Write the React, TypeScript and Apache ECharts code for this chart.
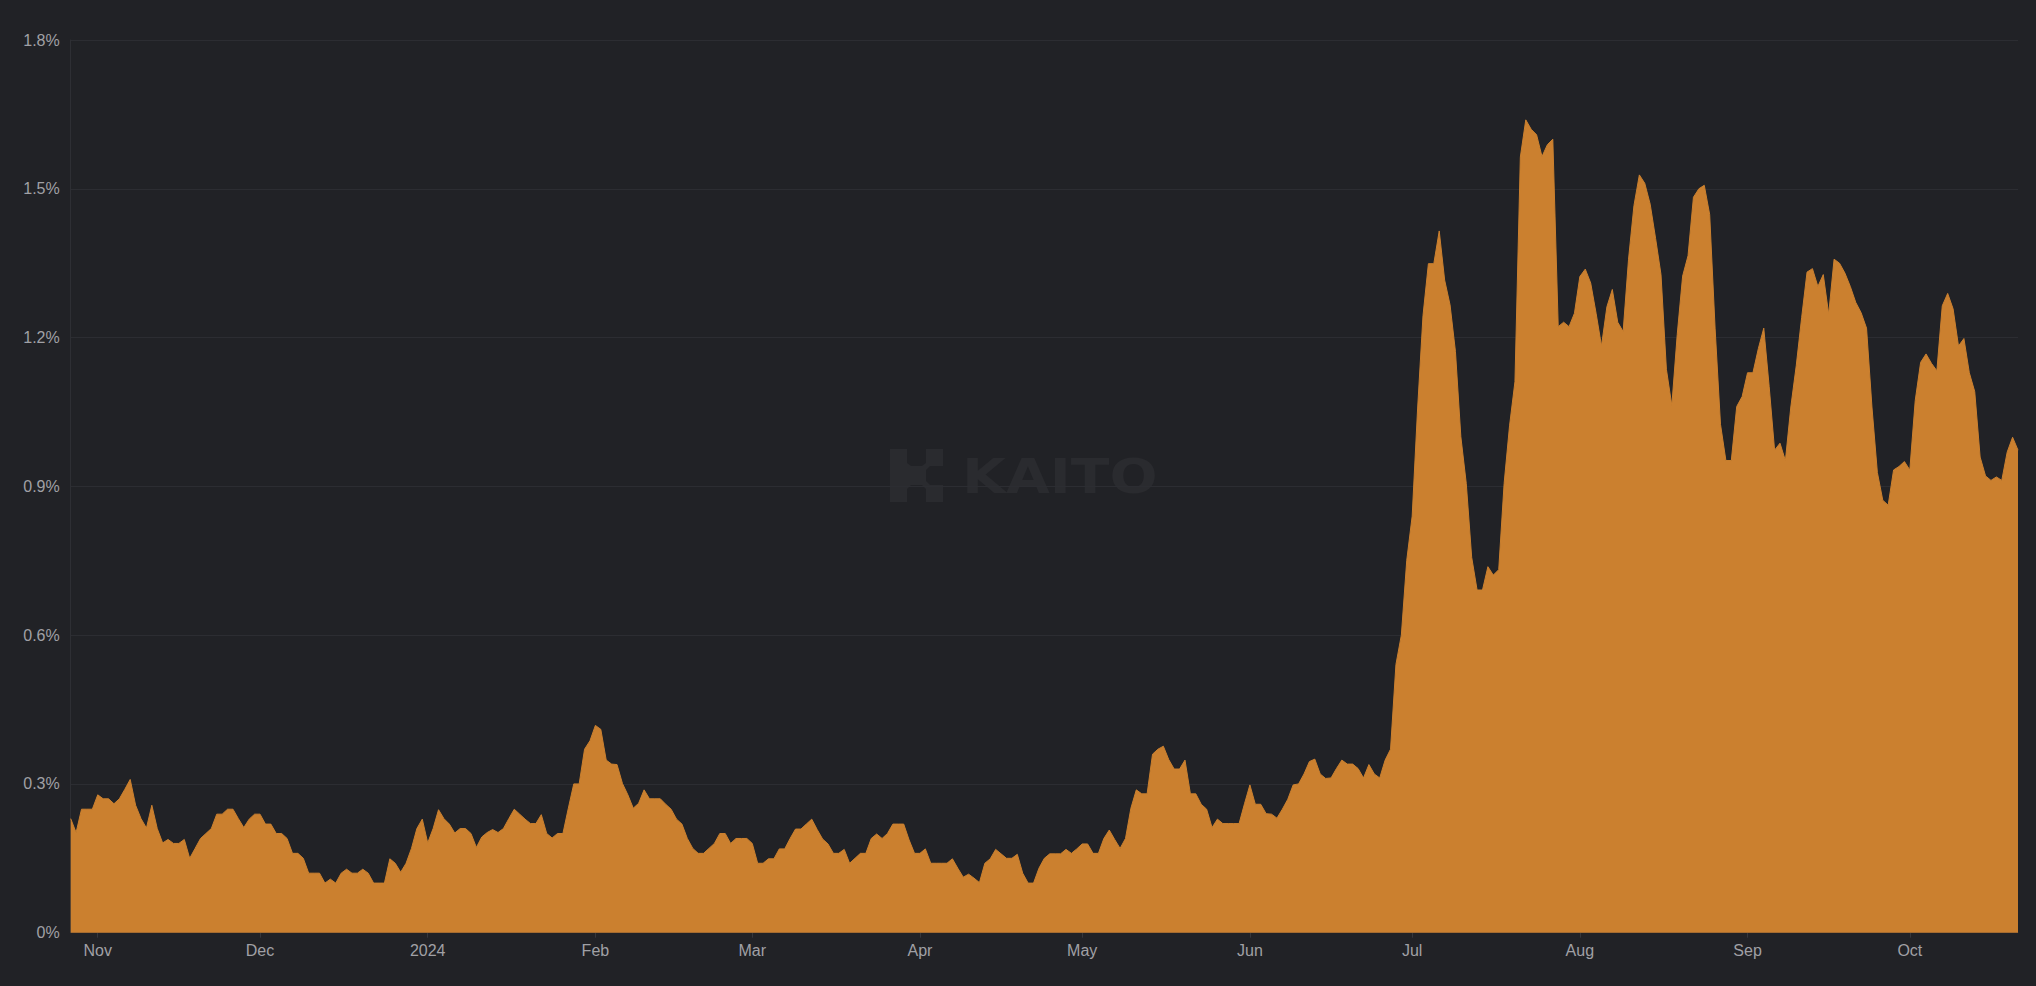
import React, { useEffect, useRef } from "react";
import * as echarts from "echarts";

// First day of the daily series and daily share values (%)
const START_DATE = "2023-10-27";

const shareValues: number[] = [
  // Oct 27 – Dec 31, 2023
  0.23, 0.202, 0.249, 0.249, 0.249, 0.278, 0.27, 0.27, 0.26, 0.27,
  0.289, 0.309, 0.257, 0.23, 0.211, 0.257, 0.21, 0.181, 0.188, 0.18,
  0.18, 0.188, 0.15, 0.17, 0.19, 0.2, 0.21, 0.239, 0.239, 0.249,
  0.249, 0.23, 0.212, 0.229, 0.239, 0.239, 0.219, 0.219, 0.2, 0.2,
  0.19, 0.16, 0.16, 0.15, 0.12, 0.12, 0.12, 0.1, 0.108, 0.1,
  0.12, 0.128, 0.12, 0.12, 0.128, 0.12, 0.1, 0.1, 0.1, 0.149,
  0.14, 0.122, 0.14, 0.17, 0.21, 0.229,
  // Jan 2024
  0.181, 0.21, 0.248, 0.23, 0.219, 0.201, 0.21, 0.21, 0.2, 0.172,
  0.193, 0.202, 0.208, 0.202, 0.21, 0.23, 0.249, 0.239, 0.229, 0.22,
  0.22, 0.238, 0.2, 0.191, 0.2, 0.2, 0.251, 0.3, 0.3, 0.37,
  0.387,
  // Feb 2024
  0.418, 0.41, 0.348, 0.34, 0.339, 0.301, 0.278, 0.251, 0.261, 0.288,
  0.27, 0.27, 0.27, 0.259, 0.249, 0.229, 0.219, 0.19, 0.17, 0.16,
  0.16, 0.17, 0.18, 0.2, 0.2, 0.18, 0.19, 0.19, 0.19,
  // Mar 2024
  0.18, 0.14, 0.14, 0.149, 0.149, 0.169, 0.169, 0.19, 0.209, 0.209,
  0.219, 0.229, 0.208, 0.189, 0.179, 0.16, 0.16, 0.168, 0.14, 0.15,
  0.16, 0.16, 0.19, 0.199, 0.19, 0.2, 0.219, 0.219, 0.219, 0.187,
  0.16,
  // Apr 2024
  0.16, 0.169, 0.14, 0.14, 0.14, 0.14, 0.149, 0.13, 0.112, 0.118,
  0.11, 0.101, 0.14, 0.149, 0.168, 0.159, 0.15, 0.15, 0.158, 0.12,
  0.1, 0.1, 0.13, 0.15, 0.159, 0.159, 0.159, 0.168, 0.16, 0.169,
  // May 2024
  0.179, 0.179, 0.16, 0.16, 0.19, 0.207, 0.188, 0.17, 0.19, 0.251,
  0.288, 0.28, 0.28, 0.36, 0.37, 0.376, 0.349, 0.33, 0.33, 0.348,
  0.28, 0.28, 0.259, 0.249, 0.212, 0.229, 0.22, 0.22, 0.22, 0.22,
  0.26,
  // Jun 2024
  0.298, 0.259, 0.259, 0.24, 0.239, 0.231, 0.249, 0.269, 0.298, 0.3,
  0.32, 0.345, 0.35, 0.32, 0.311, 0.312, 0.331, 0.348, 0.34, 0.34,
  0.331, 0.312, 0.339, 0.32, 0.312, 0.348, 0.37, 0.541, 0.6, 0.751,
  // Jul 2024
  0.84, 1.056, 1.244, 1.349, 1.349, 1.415, 1.316, 1.266, 1.172, 1.0,
  0.906, 0.757, 0.691, 0.691, 0.738, 0.721, 0.732, 0.906, 1.022, 1.111,
  1.564, 1.639, 1.62, 1.609, 1.565, 1.589, 1.6, 1.222, 1.231, 1.222,
  1.249,
  // Aug 2024
  1.323, 1.338, 1.31, 1.249, 1.183, 1.262, 1.297, 1.231, 1.212, 1.358,
  1.466, 1.528, 1.511, 1.469, 1.4, 1.327, 1.136, 1.063, 1.206, 1.324,
  1.365, 1.483, 1.5, 1.507, 1.448, 1.219, 1.025, 0.952, 0.952, 1.061,
  1.081,
  // Sep 2024
  1.129, 1.129, 1.178, 1.219, 1.101, 0.973, 0.987, 0.952, 1.06, 1.143,
  1.24, 1.332, 1.339, 1.303, 1.327, 1.247, 1.358, 1.35, 1.33, 1.303,
  1.271, 1.25, 1.219, 1.06, 0.928, 0.872, 0.862, 0.933, 0.94, 0.95,
  // Oct 2024
  0.933, 1.073, 1.15, 1.167, 1.148, 1.133, 1.264, 1.289, 1.258, 1.183,
  1.198, 1.129, 1.091, 0.959, 0.921, 0.912, 0.919, 0.912, 0.969, 0.999,
  0.973,
];

const monthNames: string[] = [
  "Jan", "Feb", "Mar", "Apr", "May", "Jun",
  "Jul", "Aug", "Sep", "Oct", "Nov", "Dec",
];

const yTicks: number[] = [0, 0.3, 0.6, 0.9, 1.2, 1.5, 1.8];

function buildDates(start: string, count: number): string[] {
  const out: string[] = [];
  const base = Date.parse(start + "T00:00:00Z");
  for (let i = 0; i < count; i++) {
    const d = new Date(base + i * 86400000);
    const y = d.getUTCFullYear();
    const m = String(d.getUTCMonth() + 1).padStart(2, "0");
    const day = String(d.getUTCDate()).padStart(2, "0");
    out.push(`${y}-${m}-${day}`);
  }
  return out;
}

const dates = buildDates(START_DATE, shareValues.length);

const isMonthStart = (_idx: number, value: string) => value.endsWith("-01");

export default function App() {
  const ref = useRef<HTMLDivElement>(null);

  useEffect(() => {
    document.body.style.margin = "0";
    document.body.style.background = "#212226";
    if (!ref.current) return;
    const chart = echarts.init(ref.current, null, { renderer: "svg" });

    const iconPts: number[][] = [
      [0, 0], [17, 0], [17, 14], [21, 17], [32, 17], [36, 14], [36, 0],
      [53, 0], [53, 17], [40, 17], [36, 21], [36, 32], [40, 36], [53, 36],
      [53, 53], [36, 53], [36, 40], [32, 36], [21, 36], [17, 40], [17, 53],
      [0, 53],
    ].map(([x, y]) => [x + 890, y + 449]);

    chart.setOption({
      animation: false,
      backgroundColor: "#212226",
      textStyle: { fontFamily: "'Liberation Sans', Arial, sans-serif" },
      grid: { left: 70.7, right: 18, top: 40, bottom: 53.3, containLabel: false },
      graphic: [
        {
          type: "polygon",
          z: -10,
          silent: true,
          shape: { points: iconPts },
          style: { fill: "#2a2b2f" },
        },
        {
          type: "text",
          z: -10,
          silent: true,
          x: 962,
          y: 476,
          scaleX: 1.18,
          style: {
            text: "KAITO",
            fontSize: 48,
            fontWeight: "bold",
            fontFamily: "'DejaVu Sans', sans-serif",
            fill: "#2a2b2f",
            align: "left",
            verticalAlign: "middle",
          },
        },
      ],
      xAxis: {
        type: "category",
        data: dates,
        boundaryGap: false,
        axisLine: { show: true, lineStyle: { color: "#2e2f34" } },
        axisTick: {
          show: true,
          interval: isMonthStart,
          length: 5,
          lineStyle: { color: "#36373c" },
        },
        axisLabel: {
          interval: isMonthStart,
          color: "#a0a0a5",
          fontSize: 16,
          margin: 10,
          formatter: (value: string) => {
            const [y, m] = value.split("-");
            const mi = parseInt(m, 10) - 1;
            return mi === 0 ? y : monthNames[mi];
          },
        },
        splitLine: { show: false },
      },
      yAxis: {
        type: "value",
        min: yTicks[0],
        max: yTicks[yTicks.length - 1],
        interval: 0.3,
        axisLine: { show: true, lineStyle: { color: "#2e2f34" } },
        axisTick: { show: false },
        axisLabel: {
          color: "#a0a0a5",
          fontSize: 16,
          margin: 11,
          formatter: (v: number) => `${Math.round(v * 10) / 10}%`,
        },
        splitLine: { show: true, lineStyle: { color: "#2c2d32", width: 1 } },
      },
      series: [
        {
          type: "line",
          data: shareValues,
          symbol: "none",
          smooth: false,
          lineStyle: { color: "#cb802f", width: 1 },
          areaStyle: { color: "#cb802f", opacity: 1 },
          itemStyle: { color: "#cb802f" },
        },
      ],
    });

    return () => chart.dispose();
  }, []);

  return (
    <div
      ref={ref}
      style={{ position: "fixed", left: 0, top: 0, width: 2036, height: 986 }}
    />
  );
}
